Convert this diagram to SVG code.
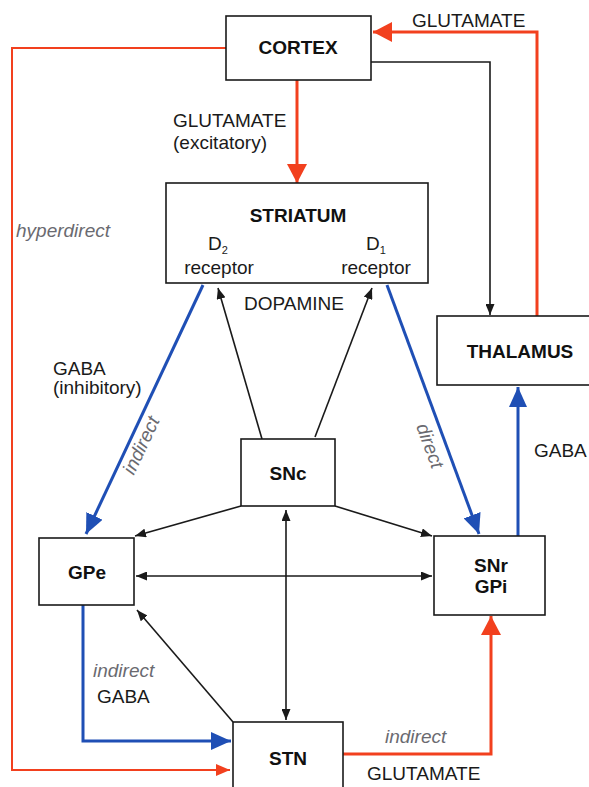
<svg xmlns="http://www.w3.org/2000/svg" width="589" height="787" viewBox="0 0 589 787">
<style>
.box{fill:#fff;stroke:#1a1a1a;stroke-width:1.6}
.nl{font-family:"Liberation Sans",Arial,sans-serif;font-weight:bold;font-size:19px;fill:#111;text-anchor:middle}
.t{font-family:"Liberation Sans",Arial,sans-serif;font-size:19px;fill:#1a1a1a}
.it{font-family:"Liberation Sans",Arial,sans-serif;font-style:italic;font-size:19px;fill:#6a6a70}
.red{fill:none;stroke:#f2401e;stroke-width:3}
.redthin{fill:none;stroke:#f2401e;stroke-width:2}
.blue{fill:none;stroke:#1f4fb5;stroke-width:3}
.blk{fill:none;stroke:#1a1a1a;stroke-width:1.6}
</style>
<defs>
<marker id="ar" markerUnits="userSpaceOnUse" markerWidth="19" markerHeight="20" refX="19" refY="10" orient="auto"><path d="M0,0 L19,10 L0,20 z" fill="#f2401e"/></marker>
<marker id="ars" markerUnits="userSpaceOnUse" markerWidth="14" markerHeight="12" refX="14" refY="6" orient="auto"><path d="M0,0 L14,6 L0,12 z" fill="#f2401e"/></marker>
<marker id="ab" markerUnits="userSpaceOnUse" markerWidth="20" markerHeight="18" refX="20" refY="9" orient="auto"><path d="M0,0 L20,9 L0,18 z" fill="#1f4fb5"/></marker>
<marker id="ak" markerUnits="userSpaceOnUse" markerWidth="11" markerHeight="9" refX="11" refY="4.5" orient="auto-start-reverse"><path d="M0,0 L11,4.5 L0,9 z" fill="#1a1a1a"/></marker>
</defs>
<g id="connectors">
<polyline class="redthin" points="226,48 12,48 12,770 230,770" marker-end="url(#ars)"/>
<line class="red" x1="297" y1="80" x2="297" y2="183" marker-end="url(#ar)"/>
<polyline class="red" points="537,316 537,32 373,32" marker-end="url(#ar)"/>
<polyline class="blk" points="371,62 490,62 490,315" marker-end="url(#ak)"/>
<line class="blue" x1="203" y1="285" x2="86" y2="534" marker-end="url(#ab)"/>
<line class="blue" x1="387" y1="285" x2="479" y2="534" marker-end="url(#ab)"/>
<line class="blue" x1="518" y1="536" x2="518" y2="387" marker-end="url(#ab)"/>
<line class="blk" x1="262" y1="439" x2="218" y2="288" marker-end="url(#ak)"/>
<line class="blk" x1="315" y1="437" x2="372" y2="288" marker-end="url(#ak)"/>
<line class="blk" x1="241" y1="506" x2="135" y2="536" marker-end="url(#ak)"/>
<line class="blk" x1="335" y1="506" x2="432" y2="536" marker-end="url(#ak)"/>
<line class="blk" x1="136" y1="576" x2="432" y2="576" marker-start="url(#ak)" marker-end="url(#ak)"/>
<line class="blk" x1="286" y1="510" x2="286" y2="720" marker-start="url(#ak)" marker-end="url(#ak)"/>
<line class="blk" x1="233" y1="722" x2="137" y2="610" marker-end="url(#ak)"/>
<polyline class="blue" points="83,605 83,741 231,741" marker-end="url(#ab)"/>
<polyline class="red" points="343,754 491,754 491,616" marker-end="url(#ar)"/>
</g>
<g id="cortex"><rect class="box" x="226" y="16" width="145" height="64"/><text class="nl" x="298" y="54">CORTEX</text></g>
<g id="striatum"><rect class="box" x="166" y="183" width="262" height="100"/><text class="nl" x="298" y="222">STRIATUM</text>
<text class="t" x="208" y="250">D<tspan font-size="11" dy="4">2</tspan></text><text class="t" x="219" y="274" text-anchor="middle">receptor</text>
<text class="t" x="366" y="250">D<tspan font-size="11" dy="4">1</tspan></text><text class="t" x="376" y="274" text-anchor="middle">receptor</text></g>
<g id="thalamus"><rect class="box" x="437" y="316" width="170" height="69"/><text class="nl" x="520" y="358">THALAMUS</text></g>
<g id="snc"><rect class="box" x="241" y="439" width="94" height="67"/><text class="nl" x="288" y="480">SNc</text></g>
<g id="gpe"><rect class="box" x="39" y="538" width="95" height="67"/><text class="nl" x="87" y="579">GPe</text></g>
<g id="snr-gpi"><rect class="box" x="434" y="536" width="111" height="79"/><text class="nl" x="491" y="572">SNr</text><text class="nl" x="491" y="593">GPi</text></g>
<g id="stn"><rect class="box" x="233" y="722" width="110" height="80"/><text class="nl" x="288" y="765">STN</text></g>
<g id="labels">
<text class="t" x="412" y="27">GLUTAMATE</text>
<text class="t" x="173" y="127">GLUTAMATE</text>
<text class="t" x="173" y="149">(excitatory)</text>
<text class="it" x="16" y="237">hyperdirect</text>
<text class="t" x="244" y="310">DOPAMINE</text>
<text class="t" x="53" y="375">GABA</text>
<text class="t" x="53" y="394">(inhibitory)</text>
<text class="it" x="147" y="448" text-anchor="middle" transform="rotate(-64.6 147 448)">indirect</text>
<text class="it" x="424" y="448" text-anchor="middle" transform="rotate(69.6 424 448)">direct</text>
<text class="t" x="534" y="457">GABA</text>
<text class="it" x="93" y="677">indirect</text>
<text class="t" x="97" y="703">GABA</text>
<text class="it" x="385" y="743">indirect</text>
<text class="t" x="367" y="780">GLUTAMATE</text>
</g>
</svg>
